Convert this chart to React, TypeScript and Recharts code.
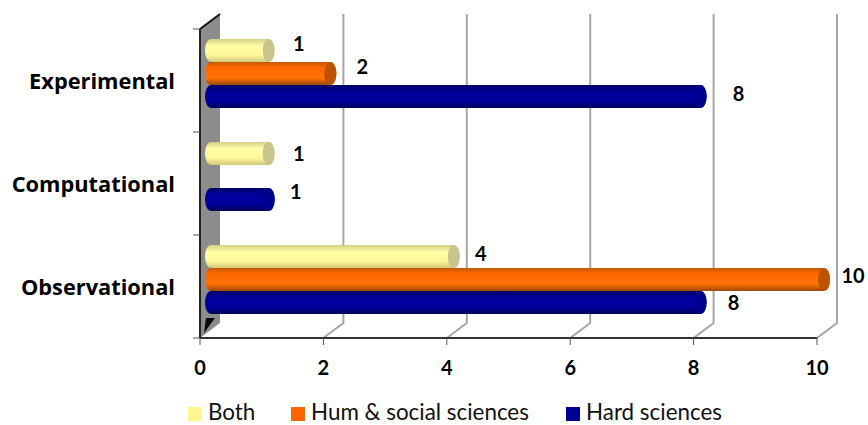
import { BarChart, Bar, XAxis, YAxis, CartesianGrid, Legend, LabelList } from "recharts";

const categories = ["Experimental", "Computational", "Observational"];
const bothValues = [1, 1, 4];
const humValues = [2, null, 10];
const hardValues = [8, 1, 8];
const xTicks = [0, 2, 4, 6, 8, 10];

const rows = categories.map((category, i) => ({
  category,
  both: bothValues[i],
  hum: humValues[i],
  hard: hardValues[i],
}));

const FONT = "Lato, 'Open Sans', sans-serif";
const WIDE_FONT = "'Open Sans', sans-serif";
const PLOT_TOP = 29;
const PLOT_HEIGHT = 309;
const BAND = PLOT_HEIGHT / categories.length;

// Fake 3D box: the back wall sits up and to the right of the axes
const DEPTH_X = 20;
const DEPTH_Y = 15;

// Cylinders float a little inside the box
const BAR_START = 5;
const BAR_END = 13;
const BAR_LIFT = 7;

const CAP: Record<string, string> = {
  both: "#c9c48c",
  hum: "#bf5200",
  hard: "#00008e",
};

// Hand placement of the value labels, per series then per drawn label
// (the empty hum row gets no label, so hum only has two entries)
const LABEL_DX: Record<string, number[]> = {
  both: [37, 37, 34],
  hum: [39, 36],
  hard: [45, 34, 40],
};
const LABEL_DY: Record<string, number[]> = {
  both: [-5, 2, -1],
  hum: [-5, -2],
  hard: [-1, -6, 2],
};
const LEGEND_LEFT = [188, 291, 566];

function Cylinder(props: any) {
  const { x, y, width, height, dataKey } = props;
  if (!width) return null;
  const left = x + BAR_START;
  const right = x + width + BAR_END;
  const top = y - BAR_LIFT;
  const ry = height / 2;
  const rx = 6;
  return (
    <g>
      <path
        d={`M${left + rx} ${top} H${right - rx} A${rx} ${ry} 0 0 1 ${right - rx} ${top + height} H${left + rx} A${rx} ${ry} 0 0 1 ${left + rx} ${top} Z`}
        fill={`url(#cyl-${dataKey})`}
      />
      <ellipse cx={right - rx} cy={top + ry} rx={rx} ry={ry} fill={CAP[dataKey]} />
    </g>
  );
}

function GridLine(props: any) {
  const { x1, y1, y2, index } = props;
  const backX = x1 + DEPTH_X;
  if (index === 0) {
    // the first line is the left wall of the box
    return (
      <g>
        <polygon
          points={`${x1},${y1} ${backX},${y1 - DEPTH_Y} ${backX},${y2 - DEPTH_Y} ${x1},${y2}`}
          fill="#8c8c8c"
        />
        <polygon
          points={`${x1 + 4},${y2 - 5} ${x1 + 15},${y2 - 20} ${x1 + 6},${y2 - 20}`}
          fill="#0a0a0a"
        />
        <line x1={x1} y1={y1} x2={backX} y2={y1 - DEPTH_Y} stroke="#111" strokeWidth={2} />
        <line x1={x1} y1={y1} x2={x1} y2={y2} stroke="#222" strokeWidth={2} />
      </g>
    );
  }
  return (
    <polyline
      points={`${backX},${y1 - DEPTH_Y} ${backX},${y2 - DEPTH_Y} ${x1},${y2}`}
      fill="none"
      stroke="#a6a6a6"
      strokeWidth={2}
    />
  );
}

function CategoryTick(props: any) {
  const { x, y, payload, index } = props;
  return (
    <g>
      <line x1={x + 1} x2={x + 8} y1={y - BAND / 2} y2={y - BAND / 2} stroke="#555" />
      {index === categories.length - 1 && (
        <line x1={x + 1} x2={x + 8} y1={y + BAND / 2} y2={y + BAND / 2} stroke="#555" />
      )}
      <text
        x={x - 17}
        y={y + 3}
        textAnchor="end"
        dominantBaseline="middle"
        fontFamily={WIDE_FONT}
        fontWeight={700}
        fontSize={21.8}
        fill="#000"
      >
        {payload.value}
      </text>
    </g>
  );
}

const valueLabel = (series: string) => (props: any) => {
  const { x, y, width, height, value, index } = props;
  if (value == null) return null;
  return (
    <text
      x={x + width + LABEL_DX[series][index]}
      y={y + height / 2 - BAR_LIFT + LABEL_DY[series][index]}
      textAnchor="middle"
      dominantBaseline="middle"
      fontFamily={FONT}
      fontWeight={700}
      fontSize={20}
      fill="#000"
    >
      {value}
    </text>
  );
};

function LegendRow({ payload }: any) {
  return (
    <div style={{ position: "relative", height: 22, lineHeight: "22px", fontFamily: FONT, fontSize: 22.4, color: "#111" }}>
      {payload.map((entry: any, i: number) => (
        <div
          key={entry.value}
          style={{ position: "absolute", left: LEGEND_LEFT[i], top: 0, display: "flex", alignItems: "center", whiteSpace: "nowrap" }}
        >
          <span style={{ width: 14, height: 14, background: entry.color, marginRight: 6, position: "relative", top: 2 }} />
          {entry.value}
        </div>
      ))}
    </div>
  );
}

export default function App() {
  return (
    <div style={{ position: "absolute", left: 0, top: 0 }}>
      <BarChart
        width={868}
        height={425}
        layout="vertical"
        data={rows}
        barCategoryGap={17}
        barGap={0}
        margin={{ top: PLOT_TOP, right: 51, bottom: 35, left: 0 }}
      >
        <defs>
          <linearGradient id="cyl-both" x1="0" y1="0" x2="0" y2="1">
            <stop offset="0" stopColor="#d5cf85" />
            <stop offset="0.3" stopColor="#ffffa6" />
            <stop offset="0.7" stopColor="#fff69a" />
            <stop offset="1" stopColor="#cfc878" />
          </linearGradient>
          <linearGradient id="cyl-hum" x1="0" y1="0" x2="0" y2="1">
            <stop offset="0" stopColor="#c45800" />
            <stop offset="0.25" stopColor="#ff6a00" />
            <stop offset="0.7" stopColor="#ff7208" />
            <stop offset="1" stopColor="#9c4800" />
          </linearGradient>
          <linearGradient id="cyl-hard" x1="0" y1="0" x2="0" y2="1">
            <stop offset="0" stopColor="#000068" />
            <stop offset="0.35" stopColor="#0000a0" />
            <stop offset="0.7" stopColor="#00009a" />
            <stop offset="1" stopColor="#000058" />
          </linearGradient>
        </defs>
        <CartesianGrid horizontal={false} vertical={GridLine as any} />
        <XAxis
          type="number"
          domain={[0, 10]}
          ticks={xTicks}
          interval={0}
          tickSize={7}
          tickMargin={16}
          axisLine={{ stroke: "#333", strokeWidth: 2 }}
          tickLine={{ stroke: "#555" }}
          tick={{ fontFamily: FONT, fontWeight: 700, fontSize: 20, fill: "#000" }}
        />
        <YAxis
          type="category"
          dataKey="category"
          width={200}
          axisLine={false}
          tickLine={false}
          tick={CategoryTick as any}
        />
        <Legend
          verticalAlign="bottom"
          itemSorter={null}
          content={LegendRow as any}
          wrapperStyle={{ left: 0, bottom: 2, width: 868 }}
        />
        <Bar dataKey="both" name="Both" fill="#fff68f" shape={Cylinder} isAnimationActive={false}>
          <LabelList dataKey="both" content={valueLabel("both") as any} />
        </Bar>
        <Bar dataKey="hum" name="Hum & social sciences" fill="#ff6600" shape={Cylinder} isAnimationActive={false}>
          <LabelList dataKey="hum" content={valueLabel("hum") as any} />
        </Bar>
        <Bar dataKey="hard" name="Hard sciences" fill="#000090" shape={Cylinder} isAnimationActive={false}>
          <LabelList dataKey="hard" content={valueLabel("hard") as any} />
        </Bar>
      </BarChart>
    </div>
  );
}
